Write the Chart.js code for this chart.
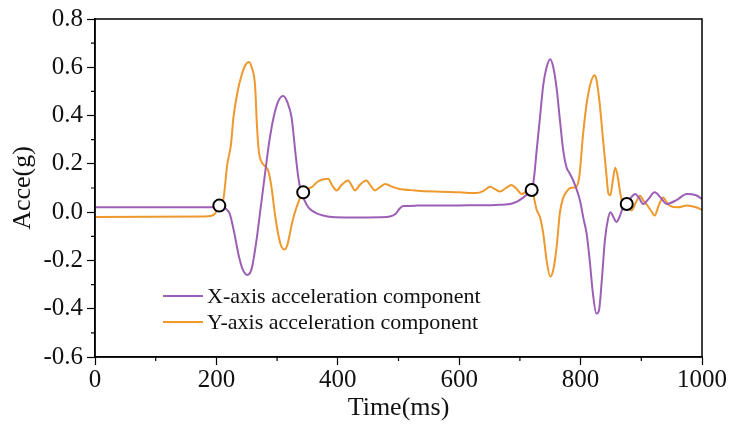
<!DOCTYPE html>
<html>
<head>
<meta charset="utf-8">
<script src="https://cdn.jsdelivr.net/npm/chart.js@4.4.1/dist/chart.umd.min.js"></script>
<style>
  html, body { margin: 0; padding: 0; background: #fff; }
  #wrap { width: 737px; height: 426px; position: relative; }
</style>
</head>
<body>
<div id="wrap"><canvas id="c"></canvas></div>
<script>
// ---- data ----
const xLabel = "X-axis acceleration component";
const yLabel = "Y-axis acceleration component";

const xTime = [0,190,204,212,218,222,229,236,243,251,258,266,273,280,287,294,302,310,317,324,330,335,339,343,349,354,365,376,390,420,470,486,495,502,508,530,600,660,684,696,706,714,720,724,727.5,733,738.5,744,750,755,760.5,766,771.5,777,781,788,796,799,805,810,815,820,826,830,835,840,845,849,854,859,864,870,876,883,890,896,903,912,922,932,942,958,975,990,1000];
const xAcc  = [0.02,0.02,0.022,0.02,0.008,-0.007,-0.08,-0.171,-0.235,-0.26,-0.235,-0.117,0.02,0.157,0.29,0.39,0.46,0.481,0.455,0.39,0.25,0.143,0.09,0.061,0.03,0.013,-0.005,-0.014,-0.02,-0.022,-0.021,-0.018,-0.008,0.015,0.025,0.027,0.028,0.03,0.034,0.045,0.061,0.078,0.092,0.16,0.253,0.39,0.527,0.6,0.633,0.6,0.513,0.38,0.253,0.184,0.165,0.13,0.075,0.048,-0.03,-0.09,-0.2,-0.33,-0.42,-0.41,-0.28,-0.117,-0.03,0.0,-0.02,-0.041,-0.02,0.02,0.034,0.06,0.075,0.06,0.034,0.055,0.082,0.06,0.034,0.05,0.075,0.07,0.055];

const yTime = [0,180,192,198,204,211,218,224,228,235,241.6,248,254,258,263.6,267,270,274,280,285.5,291,296,301,306,312,317,321,326,332,338,343,350,358,366,375,384,391,398,407,417,423,428,437,447,454,461,470,478,490,500,527,560,600,629,640,651,659,667,677,686,695,703,712,720,724,727.5,733,738.5,744,750,755,760.5,766,771.5,777,783,793,798,804,810,816,823,826,831,837,842,846,849,853,857,861,866,871,876,884,891,898,903,908,915,922,929,936,942,947,960,975,990,1000];
const yAcc  = [-0.02,-0.018,-0.015,-0.005,0.027,0.048,0.2,0.28,0.39,0.5,0.568,0.61,0.622,0.6,0.527,0.35,0.25,0.21,0.19,0.171,0.1,0.0,-0.08,-0.135,-0.155,-0.135,-0.089,-0.03,0.02,0.06,0.082,0.095,0.105,0.125,0.135,0.138,0.11,0.09,0.115,0.131,0.11,0.09,0.115,0.131,0.11,0.09,0.105,0.117,0.105,0.097,0.09,0.085,0.082,0.079,0.088,0.105,0.095,0.085,0.1,0.112,0.095,0.075,0.088,0.092,0.05,0.01,-0.02,-0.089,-0.2,-0.267,-0.24,-0.144,0.0,0.061,0.085,0.1,0.105,0.15,0.321,0.45,0.53,0.567,0.55,0.46,0.3,0.17,0.075,0.07,0.13,0.184,0.15,0.07,0.03,0.025,0.007,0.04,0.068,0.05,0.034,0.01,-0.014,0.03,0.061,0.04,0.027,0.02,0.027,0.02,0.01];

const markTime = [204.8, 343, 719.4, 876];
const markAcc  = [0.027, 0.082, 0.092, 0.034];

const xAxisTitle = "Time(ms)";
const yAxisTitle = "Acce(g)";

// ---- styling ----
const FONT = "'Liberation Serif', 'Times New Roman', serif";
const PURPLE = "#9d5fb6";
const ORANGE = "#ee982e";

const toXY = (ts, vs) => ts.map((t, i) => ({ x: t, y: vs[i] }));

const framePlugin = {
  id: 'frame',
  afterDraw(chart) {
    const { ctx, chartArea: a, scales } = chart;
    ctx.save();
    ctx.strokeStyle = '#000';
    ctx.lineWidth = 1.5;
    ctx.strokeRect(a.left, a.top, a.right - a.left, a.bottom - a.top);
    // minor ticks
    ctx.lineWidth = 1.2;
    ctx.beginPath();
    for (let v = 100; v < 1000; v += 200) {
      const px = scales.x.getPixelForValue(v);
      ctx.moveTo(px, a.bottom); ctx.lineTo(px, a.bottom + 4);
    }
    for (let k = -5; k <= 7; k += 2) {
      const py = scales.y.getPixelForValue(k / 10);
      ctx.moveTo(a.left, py); ctx.lineTo(a.left - 4, py);
    }
    ctx.stroke();
    // legend
    const items = chart.data.datasets.filter(d => d.showInLegend);
    ctx.font = "22px " + FONT;
    ctx.textBaseline = 'middle';
    ctx.fillStyle = '#111';
    items.forEach((d, i) => {
      const y = a.top + 277 + i * 26;
      ctx.strokeStyle = d.borderColor;
      ctx.lineWidth = 2;
      ctx.beginPath();
      ctx.moveTo(a.left + 68, y); ctx.lineTo(a.left + 108, y);
      ctx.stroke();
      ctx.fillText(d.label, a.left + 112, y + 1);
    });
    ctx.restore();
  }
};

new Chart(document.getElementById('c'), {
  type: 'line',
  data: {
    datasets: [
      {
        label: 'markers',
        data: toXY(markTime, markAcc),
        showLine: false,
        pointRadius: 6,
        pointBorderWidth: 2,
        pointBackgroundColor: '#fff',
        pointBorderColor: '#000',
        order: -1
      },
      {
        label: xLabel,
        showInLegend: true,
        data: toXY(xTime, xAcc),
        borderColor: PURPLE,
        borderWidth: 2,
        pointRadius: 0,
        cubicInterpolationMode: 'monotone',
        fill: false
      },
      {
        label: yLabel,
        showInLegend: true,
        data: toXY(yTime, yAcc),
        borderColor: ORANGE,
        borderWidth: 2,
        pointRadius: 0,
        cubicInterpolationMode: 'monotone',
        fill: false
      }
    ]
  },
  options: {
    responsive: true,
    maintainAspectRatio: false,
    animation: false,
    layout: { padding: { top: 17, right: 35, left: 0, bottom: 0 } },
    plugins: { legend: { display: false }, tooltip: { enabled: false } },
    scales: {
      x: {
        type: 'linear', min: 0, max: 1000,
        ticks: { stepSize: 200, color: '#111', font: { family: FONT, size: 25 }, padding: 0, maxRotation: 0,
                 callback: v => String(v) },
        grid: { drawOnChartArea: false, drawTicks: true, tickLength: 8, color: '#000', tickWidth: 1.2 },
        border: { display: true, color: '#000', width: 1.5 },
        title: { display: true, text: xAxisTitle, color: '#111', font: { family: FONT, size: 26 }, padding: { top: 0, bottom: 2 } },
        afterFit: s => { s.height = 69; }
      },
      y: {
        type: 'linear', min: -0.6, max: 0.8,
        ticks: {
          stepSize: 0.2, color: '#111', font: { family: FONT, size: 25 }, padding: 4,
          callback: v => (Math.abs(v) < 1e-9 ? 0 : v).toFixed(1)
        },
        grid: { drawOnChartArea: false, drawTicks: true, tickLength: 8, color: '#000', tickWidth: 1.2 },
        border: { display: true, color: '#000', width: 1.5 },
        title: { display: true, text: yAxisTitle, color: '#111', font: { family: FONT, size: 26 }, padding: { top: 8, bottom: 0 } },
        afterFit: s => { s.width = 95; }
      }
    }
  },
  plugins: [framePlugin]
});
</script>
</body>
</html>
